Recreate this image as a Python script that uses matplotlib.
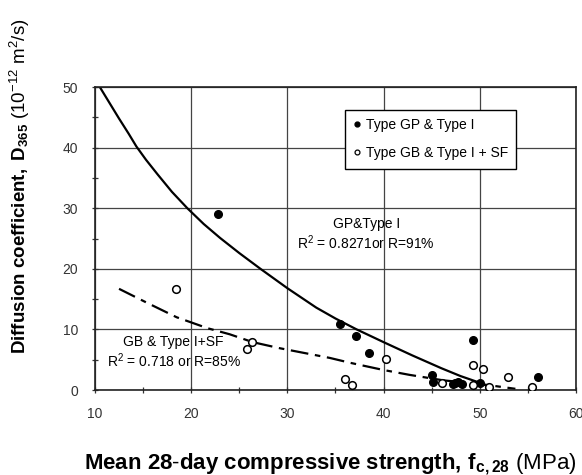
import matplotlib
matplotlib.use('Agg')
import matplotlib.pyplot as plt
from matplotlib.lines import Line2D

plt.rcParams['font.family'] = ['Liberation Sans', 'DejaVu Sans']
plt.rcParams['mathtext.fontset'] = 'custom'
plt.rcParams['mathtext.rm'] = 'Liberation Sans'
plt.rcParams['mathtext.bf'] = 'Liberation Sans:bold'
plt.rcParams['mathtext.it'] = 'Liberation Sans:italic'

# Type GP & Type I (filled)
gp_x = [22.8, 35.5, 37.1, 38.5, 49.3, 45.0, 45.1, 47.2, 47.7, 48.1, 47.4, 50.0, 56.1]
gp_y = [29.0, 10.9, 8.9, 6.1, 8.3, 2.5, 1.3, 1.0, 1.3, 1.0, 1.1, 1.1, 2.2]

# Type GB & Type I + SF (open)
gb_x = [18.4, 25.8, 26.3, 40.3, 36.0, 36.7, 46.1, 49.3, 50.3, 49.3, 51.0, 52.9, 55.4]
gb_y = [16.7, 6.8, 7.9, 5.1, 1.9, 0.8, 1.2, 4.1, 3.5, 0.8, 0.5, 2.2, 0.5]

# fitted trend lines
fit_gp_x = [10.5, 11.5, 12.5, 13.5, 14.3, 15.3, 16.5, 18.0, 19.6, 21.3, 23.0, 25.0, 27.2,
            30.0, 33.0, 35.0, 37.2, 40.0, 43.0, 46.0, 48.0, 50.0, 51.0]
fit_gp_y = [50.0, 47.4, 44.8, 42.3, 40.2, 38.0, 35.6, 32.7, 30.0, 27.4, 25.1, 22.6, 20.0,
            16.8, 13.6, 11.8, 10.0, 7.9, 5.7, 3.6, 2.3, 1.2, 0.5]
fit_gb_x = [12.5, 15.4, 18.5, 21.7, 24.0, 26.4, 29.2, 34.4, 36.5, 40.0, 42.7, 46.2, 50.0, 53.7]
fit_gb_y = [16.7, 14.4, 12.0, 10.2, 9.2, 7.9, 6.9, 5.3, 4.5, 3.3, 2.5, 1.6, 1.0, 0.2]

fig = plt.figure(figsize=(5.82, 4.75), dpi=100)
ax = fig.add_axes([0.1632, 0.1789, 0.8265, 0.6379])

ax.plot(fit_gp_x, fit_gp_y, color='black', lw=1.6)
ax.plot(fit_gb_x, fit_gb_y, color='black', lw=1.6, dashes=(8, 3, 2.5, 3))
ax.plot(gp_x, gp_y, 'o', color='black', ms=5.5, zorder=3)
ax.plot(gb_x, gb_y, 'o', mfc='white', mec='black', mew=1.1, ms=5.5, zorder=3)

ax.set_xlim(10, 60)
ax.set_ylim(0, 50)
ax.set_xticks(range(10, 61, 10))
ax.set_yticks(range(0, 51, 10))
ax.set_xticks(range(15, 60, 10), minor=True)
ax.set_yticks(range(5, 50, 10), minor=True)
ax.grid(True, which='major', color='#444444', lw=0.9)
ax.set_axisbelow(True)
ax.tick_params(which='both', direction='inout', length=4, width=0.9, color='#333333')
ax.tick_params(which='major', labelsize=10, labelcolor='#333333', pad=10)
for s in ax.spines.values():
    s.set_color('#222222')
    s.set_linewidth(1.2)

ax.text(0.5655, 0.535, 'GP&Type I', transform=ax.transAxes, ha='center', fontsize=10)
ax.text(0.42, 0.465, r'R$^2$ = 0.8271or R=91%', transform=ax.transAxes, fontsize=10)
ax.text(0.058, 0.145, 'GB & Type I+SF', transform=ax.transAxes, fontsize=10)
ax.text(0.025, 0.075, r'R$^2$ = 0.718 or R=85%', transform=ax.transAxes, fontsize=10)

handles = [Line2D([], [], marker='o', ls='none', color='black', ms=3.5),
           Line2D([], [], marker='o', ls='none', mfc='white', mec='black', mew=0.9, ms=3.5)]
leg = ax.legend(handles, ['Type GP & Type I', 'Type GB & Type I + SF'],
                loc='upper left', bbox_to_anchor=(0.505, 0.947), fontsize=10,
                frameon=True, fancybox=False, edgecolor='black', framealpha=1,
                handlelength=0.6, handletextpad=0.3, borderpad=0.6, labelspacing=1.0)
leg.get_frame().set_linewidth(1.0)

fig.text(0.144, 0.012,
         r'$\mathbf{Mean\ 28\text{-}day\ compressive\ strength,\,f}_{\mathbf{c,28}}$ (MPa)',
         fontsize=16, ha='left', va='baseline')
fig.text(0.035, 0.608,
         r'$\mathbf{Diffusion\ coefficient,\ D}_{\mathbf{365}}$ (10$^{-12}$ m$^2$/s)',
         fontsize=13.5, rotation=90, ha='center', va='center')

fig.savefig('out.png', dpi=100)
